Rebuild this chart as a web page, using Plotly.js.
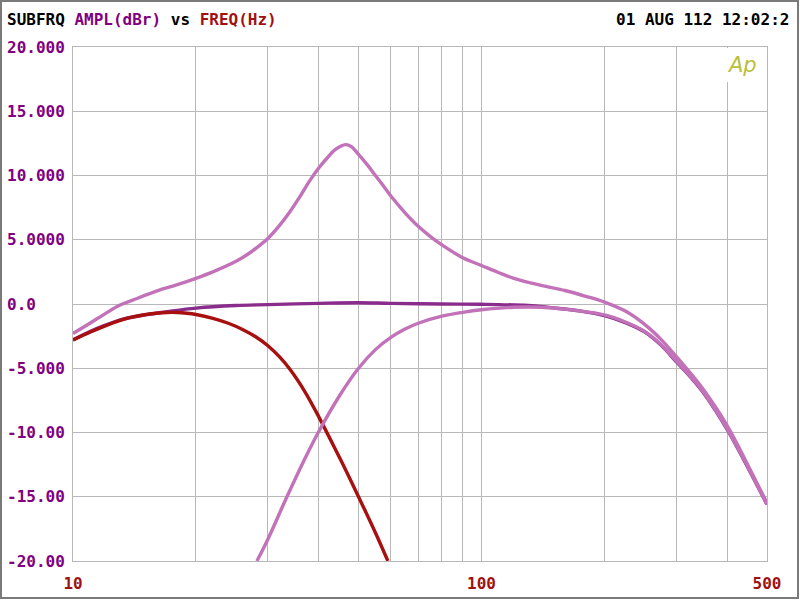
<!DOCTYPE html>
<html>
<head>
<meta charset="utf-8">
<script src="https://cdn.plot.ly/plotly-3.0.1.min.js"></script>
<style>html,body{margin:0;padding:0;background:#fff;}#chart{width:800px;height:602px;}</style>
</head>
<body>
<div id="chart"></div>
<script>
// ---- data ----
const freqFlat = [10, 11, 12, 13, 15, 17, 20, 25, 30, 40, 50, 60, 80, 100, 130, 150, 175, 200, 225, 250, 275, 300, 325, 350, 400, 450, 500];
const ampFlat  = [-2.8, -2.15, -1.65, -1.25, -0.85, -0.6, -0.32, -0.12, -0.05, 0.05, 0.1, 0.05, 0.0, -0.02, -0.12, -0.3, -0.55, -0.9, -1.45, -2.15, -3.2, -4.5, -5.7, -6.95, -9.8, -12.8, -15.6];

const freqLP = [10, 11, 12, 13, 14, 16, 17, 18, 19, 20, 22, 24, 26, 28, 30, 32, 34, 37, 40, 43, 46, 50, 55, 59];
const ampLP  = [-2.8, -2.2, -1.7, -1.3, -1.0, -0.72, -0.66, -0.66, -0.72, -0.82, -1.12, -1.5, -1.98, -2.55, -3.25, -4.1, -5.1, -6.85, -8.8, -10.75, -12.6, -15.0, -17.8, -20.0];

const freqHP = [28.2, 30, 33.4, 37, 40, 45, 50, 55, 60, 65, 70, 80, 90, 100, 120, 140, 160, 200, 225, 250, 275, 300, 325, 350, 400, 450, 500];
const ampHP  = [-20, -18.3, -15, -12.0, -9.9, -7.1, -5.0, -3.55, -2.6, -1.95, -1.5, -0.95, -0.65, -0.45, -0.25, -0.25, -0.4, -0.85, -1.4, -2.1, -3.15, -4.45, -5.65, -6.9, -9.75, -12.75, -15.6];

const freqBoost = [10, 11, 12, 13, 14, 16, 18, 20, 22, 25, 27, 29, 30, 32, 34, 36, 38, 40, 42, 44, 46.5, 48, 50, 52.5, 55, 57.5, 60, 65, 70, 75, 80, 90, 100, 110, 120, 140, 160, 180, 200, 225, 250, 275, 300, 325, 350, 400, 450, 500];
const ampBoost  = [-2.3, -1.5, -0.75, -0.1, 0.3, 1.0, 1.5, 2.0, 2.5, 3.3, 3.95, 4.7, 5.1, 6.1, 7.2, 8.4, 9.6, 10.6, 11.4, 12.05, 12.4, 12.25, 11.65, 10.85, 10.0, 9.2, 8.4, 7.1, 6.05, 5.25, 4.6, 3.6, 3.0, 2.45, 2.0, 1.45, 1.05, 0.6, 0.15, -0.55, -1.55, -2.75, -4.1, -5.4, -6.7, -9.5, -12.6, -15.5];

const xGridFreqs = [10, 20, 30, 40, 50, 60, 70, 80, 90, 100, 200, 300, 400, 500];
const xTickText  = ['10', '', '', '', '', '', '', '', '', '100', '', '', '', '500'];
const yTicks     = [20, 15, 10, 5, 0, -5, -10, -15, -20];
const yTickText  = ['20.000', '15.000', '10.000', '5.0000', '0.0', '-5.000', '-10.00', '-15.00', '-20.00'];

const titleText = '<span style="color:#000000">SUBFRQ</span> <span style="color:#800080">AMPL(dBr)</span> vs <span style="color:#a01010">FREQ(Hz)</span>';
const dateText = '01 AUG 112 12:02:2';

// ---- styling ----
const FONT = '"DejaVu Sans Mono", "Liberation Mono", monospace';
const cPurple = '#8a2c8c';
const cRed = '#a80f0f';
const cPink = '#c272b8';
const gridC = '#b8b8b8';

const mk = (x, y, color) => ({
  x: x, y: y, type: 'scatter', mode: 'lines',
  line: {color: color, width: 3.4, shape: 'spline', smoothing: 1},
  hoverinfo: 'skip', showlegend: false
});

const traces = [
  mk(freqFlat, ampFlat, cPurple),
  mk(freqLP, ampLP, cRed),
  mk(freqHP, ampHP, cPink),
  mk(freqBoost, ampBoost, cPink)
];

const L = 73, R = 767, T = 47, B = 561, W = 800, H = 602;
const px2x = p => (p - L) / (R - L);
const px2y = p => (B - p) / (B - T);

const annotations = yTicks.map((v, i) => ({
  xref: 'paper', yref: 'y', x: px2x(5), y: v, xanchor: 'left', yanchor: 'middle',
  text: '<b>' + yTickText[i] + '</b>', showarrow: false,
  font: {family: FONT, size: 16, color: '#800080'}
}));
annotations.push({
  xref: 'paper', yref: 'paper', x: px2x(5), y: px2y(20), xanchor: 'left', yanchor: 'middle',
  text: '<b>' + titleText + '</b>', showarrow: false, font: {family: FONT, size: 16, color: '#000'}
});
annotations.push({
  xref: 'paper', yref: 'paper', x: px2x(791), y: px2y(20), xanchor: 'right', yanchor: 'middle',
  text: '<b>' + dateText + '</b>', showarrow: false, font: {family: FONT, size: 16, color: '#000'}
});
annotations.push({
  xref: 'paper', yref: 'paper', x: px2x(742), y: px2y(65), xanchor: 'center', yanchor: 'middle',
  text: 'Ap', showarrow: false,
  font: {family: '"DejaVu Sans", sans-serif', size: 21, color: '#b8c03c', style: 'italic'}
});

const shapes = [
  // gap in the 400 Hz grid line under the logo
  {type: 'rect', xref: 'paper', yref: 'paper', x0: px2x(720), x1: px2x(736), y0: px2y(82), y1: px2y(48),
   fillcolor: '#ffffff', line: {width: 0}, layer: 'above'},
  // outer frame of the picture
  {type: 'rect', xref: 'paper', yref: 'paper', x0: px2x(1), x1: px2x(798), y0: px2y(1), y1: px2y(598),
   fillcolor: 'rgba(0,0,0,0)', line: {color: '#7a7a7a', width: 2}, layer: 'above'}
];

const layout = {
  width: W, height: H,
  margin: {l: L, r: W - R, t: T, b: H - B, pad: 0},
  paper_bgcolor: '#ffffff', plot_bgcolor: '#ffffff',
  showlegend: false,
  xaxis: {
    type: 'log', range: [1, Math.log10(500)],
    tickvals: xGridFreqs, ticktext: xTickText.map(t => t ? '<b>' + t + '</b>' : ''),
    showgrid: true, gridcolor: gridC, gridwidth: 1,
    showline: true, linecolor: gridC, linewidth: 1, mirror: true,
    ticks: '', ticklabelstandoff: 8,
    tickfont: {family: FONT, size: 16, color: '#a01010'},
    zeroline: false, fixedrange: true
  },
  yaxis: {
    range: [-20, 20], tickvals: yTicks, showticklabels: false,
    showgrid: true, gridcolor: gridC, gridwidth: 1,
    showline: true, linecolor: gridC, linewidth: 1, mirror: true,
    ticks: '', zeroline: false, fixedrange: true
  },
  annotations: annotations,
  shapes: shapes
};

Plotly.newPlot('chart', traces, layout, {displayModeBar: false, staticPlot: true});
</script>
</body>
</html>
